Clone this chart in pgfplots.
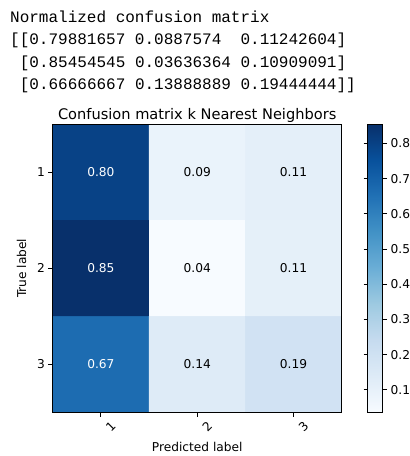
\documentclass[border=0pt]{standalone}
\usepackage{pgfplots}
\pgfplotsset{compat=1.18}
\usepackage{fontspec}
\setmainfont{DejaVu Sans}
\newfontfamily\monofont{Liberation Mono}
\newcommand\lab{\fontsize{12.2}{14.6}\selectfont}
\begin{document}
\begin{tikzpicture}[x=1pt,y=1pt]
\useasboundingbox (0,0) rectangle (410,456);
\begin{scope}[every node/.style={anchor=base west, inner sep=0, font=\monofont\fontsize{16}{19}\selectfont}]
\node at (10,433.3) {Normalized confusion matrix};
\node at (10,411.1) {[[0.79881657 0.0887574~ 0.11242604]};
\node at (10,388.9) {~[0.85454545 0.03636364 0.10909091]};
\node at (10,366.7) {~[0.66666667 0.13888889 0.19444444]]};
\end{scope}
\begin{axis}[
  name=main,
  at={(52.7pt,43.7pt)}, anchor=south west,
  scale only axis, width=289pt, height=288pt,
  xmin=-0.5, xmax=2.5, ymin=-0.5, ymax=2.5,
  y dir=reverse, enlargelimits=false, axis on top,
  colormap={mplblues}{rgb255=(247,251,255) rgb255=(222,235,247) rgb255=(198,219,239) rgb255=(158,202,225) rgb255=(107,174,214) rgb255=(66,146,198) rgb255=(33,113,181) rgb255=(8,81,156) rgb255=(8,48,107)},
  point meta min=0.03636364, point meta max=0.85454545,
  xtick={0,1,2}, xticklabels={1,2,3},
  ytick={0,1,2}, yticklabels={1,2,3},
  xtick pos=left, ytick pos=left,
  tick align=outside, major tick length=4.3pt,
  tick style={black, line width=1pt},
  axis line style={black, line width=1pt},
  /pgf/number format/assume math mode=true,
  ticklabel style={font=\lab},
  xticklabel style={rotate=45, anchor=center, yshift=-14pt},
  title={Confusion matrix k Nearest Neighbors},
  title style={font=\fontsize{14.6}{17.5}\selectfont, at={(0.5,1)}, anchor=base, yshift=-0.7pt, inner sep=0},
  xlabel={Predicted label}, ylabel={True label},
  xlabel style={font=\lab, at={(axis description cs:0.5,0)}, anchor=center, yshift=-35pt},
  ylabel style={font=\lab, at={(axis description cs:-0.1073,0.5)}, anchor=center},
  colorbar,
  colorbar style={
    at={(parent axis.north east)}, anchor=north west, xshift=17.6pt,
    scale only axis, width=15pt, height=288pt,
    ytick={0.1,0.2,0.3,0.4,0.5,0.6,0.7,0.8},
    yticklabel pos=right,
    tick align=outside, major tick length=4.3pt,
    tick style={black, line width=1pt},
    axis line style={black, line width=1pt},
    /pgf/number format/assume math mode=true,
    /pgf/number format/fixed, /pgf/number format/precision=1,
    yticklabel style={font=\lab},
  },
]
\addplot[matrix plot, mesh/cols=3, point meta=explicit] table[meta=c, row sep=\\] {
x y c\\
0 0 0.79881657\\ 1 0 0.0887574\\ 2 0 0.11242604\\
0 1 0.85454545\\ 1 1 0.03636364\\ 2 1 0.10909091\\
0 2 0.66666667\\ 1 2 0.13888889\\ 2 2 0.19444444\\
};
\addplot[draw=none, mark=none, nodes near coords, point meta=explicit symbolic,
  every node near coord/.append style={text=white, anchor=center, font=\lab}]
  table[meta=t, row sep=\\] {
x y t\\
0 0 0.80\\
0 1 0.85\\
0 2 0.67\\
};
\addplot[draw=none, mark=none, nodes near coords, point meta=explicit symbolic,
  every node near coord/.append style={text=black, anchor=center, font=\lab}]
  table[meta=t, row sep=\\] {
x y t\\
1 0 0.09\\ 2 0 0.11\\
1 1 0.04\\ 2 1 0.11\\
1 2 0.14\\ 2 2 0.19\\
};
\end{axis}
\end{tikzpicture}
\end{document}
